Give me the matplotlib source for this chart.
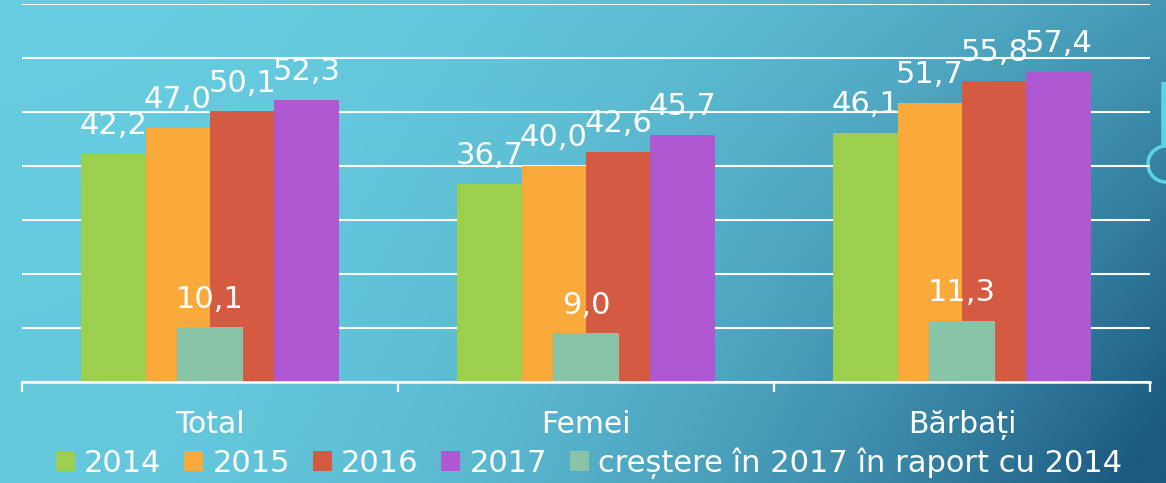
import numpy as np
import matplotlib
matplotlib.use("Agg")
import matplotlib.pyplot as plt
from matplotlib.patches import Circle
from matplotlib.lines import Line2D

# ---- data ----
categories = ["Total", "Femei", "Bărbați"]
years = ["2014", "2015", "2016", "2017"]
v2014 = [42.2, 36.7, 46.1]
v2015 = [47.0, 40.0, 51.7]
v2016 = [50.1, 42.6, 55.8]
v2017 = [52.3, 45.7, 57.4]
growth = [10.1, 9.0, 11.3]
growth_label = "creștere în 2017 în raport cu 2014"

year_colors = ["#9CCF4D", "#FAA93B", "#D45B42", "#B058D1"]
growth_color = "#89C4A7"

W, H = 1166, 483
plt.rcParams["font.family"] = ["DejaVu Sans"]
fig = plt.figure(figsize=(W / 100, H / 100), dpi=100)

# ---- slide background: diagonal teal-to-blue gradient ----
bg = fig.add_axes([0, 0, 1, 1], zorder=0)
u = np.linspace(0, 1, 400)[None, :]
v = np.linspace(0, 1, 200)[:, None]
t = np.clip(u ** 2.2 * (0.45 + 0.6 * v) + 0.04 * v, 0, 1)
c0 = np.array([104, 205, 224]) / 255
c1 = np.array([28, 90, 130]) / 255
img = c0[None, None, :] * (1 - t[..., None]) + c1[None, None, :] * t[..., None]
bg.imshow(img, extent=[0, W, H, 0], aspect="auto", interpolation="bilinear")
bg.set_xlim(0, W)
bg.set_ylim(H, 0)
bg.axis("off")
# decorative accent on the right edge
bg.add_line(Line2D([1164, 1164], [82, 146], color="#5ED4E6", lw=4, solid_capstyle="butt"))
bg.add_patch(Circle((1166, 164), 18, fill=False, edgecolor="#5ED4E6", lw=2.5))

# ---- chart ----
ax = fig.add_axes([22 / W, 1 - 382 / H, (1150 - 22) / W, (382 - 4) / H], zorder=1)
ax.set_facecolor("none")

x = np.arange(len(categories))
w = 0.1714
series = [v2014, v2015, v2016, v2017]
label_kw = dict(ha="center", va="bottom", color="white", fontsize=22,
                textcoords="offset points", xytext=(0, 10), zorder=5)

for i, (vals, col, yr) in enumerate(zip(series, year_colors, years)):
    pos = x + (i - 1.5) * w
    ax.bar(pos, vals, width=w, color=col, label=yr, zorder=2)
    for px, val in zip(pos, vals):
        ax.annotate(f"{val:.1f}".replace(".", ","), (px, val), **label_kw)

ax.bar(x, growth, width=0.175, color=growth_color, label=growth_label, zorder=3)
for px, val in zip(x, growth):
    ax.annotate(f"{val:.1f}".replace(".", ","), (px, val), **label_kw)

ax.set_xlim(-0.5, len(categories) - 0.5)
ax.set_ylim(0, 70)
ax.set_yticks(np.arange(0, 71, 10))
ax.yaxis.grid(True, color="white", lw=1.5, zorder=0)
ax.set_axisbelow(True)
ax.tick_params(axis="y", left=False, labelleft=False)

for s in ["top", "right", "left"]:
    ax.spines[s].set_visible(False)
ax.spines["bottom"].set_color("white")
ax.spines["bottom"].set_linewidth(1.8)
ax.spines["bottom"].set_zorder(4)

ax.set_xticks(np.arange(-0.5, len(categories)), minor=False)
ax.set_xticklabels([])
ax.tick_params(axis="x", which="major", direction="out", length=7.5,
               width=1.6, color="white")
ax.set_xticks(x, minor=True)
ax.set_xticklabels(categories, minor=True)
ax.tick_params(axis="x", which="minor", length=0, pad=20,
               labelsize=21.5, labelcolor="white")

leg = fig.legend(loc="center", bbox_to_anchor=(0.505, 0.041), ncol=5,
                 frameon=False, fontsize=22, handlelength=0.62,
                 handleheight=0.62, handletextpad=0.3, columnspacing=0.75,
                 borderaxespad=0, borderpad=0)
for txt in leg.get_texts():
    txt.set_color("white")

fig.savefig("out.png", dpi=100)
